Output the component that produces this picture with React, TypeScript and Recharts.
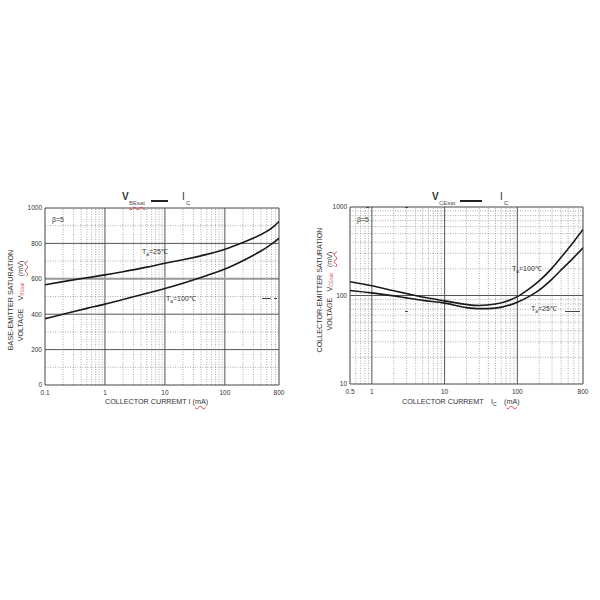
import React from 'react';
import { LineChart, Line, XAxis, YAxis, ReferenceLine } from 'recharts';

// ---- Left chart: VBEsat vs IC ----
const beCurrents = [0.1, 0.2, 0.5, 1, 2, 5, 10, 20, 50, 100, 200, 300, 400, 500, 650, 800];
const vbeT25 = [566, 584, 606, 622, 640, 666, 688, 708, 738, 767, 805, 830, 850, 868, 895, 924];
const vbeT100 = [375, 400, 433, 457, 483, 518, 545, 575, 619, 655, 702, 733, 757, 778, 804, 830];
const beXTicks = [0.1, 1, 10, 100, 800];
const beYTicks = [0, 200, 400, 600, 800, 1000];
const beXMajor = [1, 10, 100];
const beXMinor = [0.2, 0.3, 0.4, 0.5, 0.6, 0.7, 0.8, 0.9, 2, 3, 4, 5, 6, 7, 8, 9, 20, 30, 40, 50, 60, 70, 80, 90, 200, 300, 400, 500, 600, 700];
const beYMajor = [200, 400, 800];
const beYMinor = [100, 300, 500, 700, 900];

// ---- Right chart: VCEsat vs IC ----
const ceCurrents = [0.5, 1, 2, 3, 5, 10, 20, 30, 50, 100, 150, 200, 300, 400, 500, 600, 800];
const vceT100 = [143, 129, 113, 105, 96, 87, 79, 77, 80, 97, 121, 146, 204, 270, 338, 408, 557];
const vceT25 = [114, 107, 99, 94, 88, 82, 73, 71, 72, 84, 99, 115, 153, 194, 232, 270, 346];
const ceXTicks = [0.5, 1, 10, 100, 800];
const ceYTicks = [10, 100, 1000];
const ceXMajor = [1, 10, 100];
const ceXMinor = [0.6, 0.7, 0.8, 0.9, 2, 3, 4, 5, 6, 7, 8, 9, 20, 30, 40, 50, 60, 70, 80, 90, 200, 300, 400, 500, 600, 700];
const ceYMajor = [100];
const ceYMinor = [20, 30, 40, 50, 60, 70, 80, 90, 200, 300, 400, 500, 600, 700, 800, 900];

const beData = beCurrents.map((ic, i) => ({ ic, t25: vbeT25[i], t100: vbeT100[i] }));
const ceData = ceCurrents.map((ic, i) => ({ ic, t25: vceT25[i], t100: vceT100[i] }));

const FONT = '"Liberation Sans", Arial, sans-serif';
const TXT = '#333';
const tickStyle = { fontSize: 6.5, fill: '#333', fontFamily: FONT };
const wavy: React.CSSProperties = { textDecoration: 'underline wavy #d44', textDecorationThickness: '0.5px', textUnderlineOffset: '1px' };

function T({ x, y, size = 7, children, style }: { x: number; y: number; size?: number; children: React.ReactNode; style?: React.CSSProperties }) {
  return (
    <div style={{ position: 'absolute', left: x, top: y - size / 2, fontSize: size, lineHeight: 1, whiteSpace: 'nowrap', color: TXT, fontFamily: FONT, ...style }}>
      {children}
    </div>
  );
}

function R({ cx, cy, size = 7, children }: { cx: number; cy: number; size?: number; children: React.ReactNode }) {
  return (
    <div style={{ position: 'absolute', left: cx, top: cy, transform: 'translate(-50%,-50%) rotate(-90deg)', fontSize: size, lineHeight: 1, whiteSpace: 'nowrap', color: TXT, fontFamily: FONT }}>
      {children}
    </div>
  );
}

function Seg({ x, y, w, h = 1, c = '#222' }: { x: number; y: number; w: number; h?: number; c?: string }) {
  return <div style={{ position: 'absolute', left: x, top: y, width: w, height: h, background: c }} />;
}

const Sub = ({ children, style }: { children: React.ReactNode; style?: React.CSSProperties }) => (
  <span style={{ fontSize: '0.7em', verticalAlign: '-0.35em', ...style }}>{children}</span>
);

function gridLines(xMajor: number[], xMinor: number[], yMajor: number[], yMinor: number[]) {
  const out: React.ReactNode[] = [];
  xMinor.forEach((v) => out.push(<ReferenceLine key={'xm' + v} x={v} stroke="#888" strokeWidth={0.7} strokeDasharray="1 1.5" ifOverflow="visible" />));
  yMinor.forEach((v) => out.push(<ReferenceLine key={'ym' + v} y={v} stroke="#888" strokeWidth={0.7} strokeDasharray="1 1.5" ifOverflow="visible" />));
  xMajor.forEach((v) => out.push(<ReferenceLine key={'xM' + v} x={v} stroke="#555" strokeWidth={1} ifOverflow="visible" />));
  yMajor.forEach((v) => out.push(<ReferenceLine key={'yM' + v} y={v} stroke="#555" strokeWidth={1} ifOverflow="visible" />));
  return out;
}

export default function App() {
  return (
    <div style={{ position: 'absolute', left: 0, top: 0, width: 600, height: 600, background: '#fff', overflow: 'hidden' }}>
      {/* Left chart */}
      <div style={{ position: 'absolute', left: 0, top: 0 }}>
        <LineChart width={300} height={600} data={beData} margin={{ top: 208, right: 21, bottom: 195, left: 25 }}>
          <XAxis dataKey="ic" type="number" scale="log" domain={[0.1, 800]} ticks={beXTicks} allowDataOverflow
            height={20} tickLine={false} axisLine={false} tickSize={0} tickMargin={5} tick={tickStyle} interval={0} />
          <YAxis type="number" domain={[0, 1000]} ticks={beYTicks} width={20} tickLine={false} axisLine={false}
            tickSize={0} tickMargin={3} tick={tickStyle} interval={0} />
          {gridLines(beXMajor, beXMinor, beYMajor, beYMinor)}
          <ReferenceLine y={600} stroke="#999" strokeWidth={2} ifOverflow="visible" />
          <ReferenceLine x={0.1} stroke="#444" strokeWidth={1} ifOverflow="visible" />
          <ReferenceLine x={800} stroke="#444" strokeWidth={1} ifOverflow="visible" />
          <ReferenceLine y={0} stroke="#444" strokeWidth={1} ifOverflow="visible" />
          <ReferenceLine y={1000} stroke="#444" strokeWidth={1} ifOverflow="visible" />
          <Line dataKey="t25" type="monotone" stroke="#1a1a1a" strokeWidth={1.6} dot={false} isAnimationActive={false} />
          <Line dataKey="t100" type="monotone" stroke="#1a1a1a" strokeWidth={1.6} dot={false} isAnimationActive={false} />
        </LineChart>
      </div>

      {/* Right chart */}
      <div style={{ position: 'absolute', left: 300, top: 0 }}>
        <LineChart width={300} height={600} data={ceData} margin={{ top: 207, right: 17, bottom: 196, left: 28 }}>
          <XAxis dataKey="ic" type="number" scale="log" domain={[0.5, 800]} ticks={ceXTicks} allowDataOverflow
            height={20} tickLine={false} axisLine={false} tickSize={0} tickMargin={5} tick={tickStyle} interval={0} />
          <YAxis type="number" scale="log" domain={[10, 1000]} ticks={ceYTicks} width={22} tickLine={false} axisLine={false}
            tickSize={0} tickMargin={3} tick={tickStyle} interval={0} allowDataOverflow />
          {gridLines(ceXMajor, ceXMinor, ceYMajor, ceYMinor)}
          <ReferenceLine x={0.5} stroke="#444" strokeWidth={1} ifOverflow="visible" />
          <ReferenceLine x={800} stroke="#444" strokeWidth={1} ifOverflow="visible" />
          <ReferenceLine y={10} stroke="#444" strokeWidth={1} ifOverflow="visible" />
          <ReferenceLine y={1000} stroke="#444" strokeWidth={1} ifOverflow="visible" />
          <Line dataKey="t100" type="monotone" stroke="#1a1a1a" strokeWidth={1.6} dot={false} isAnimationActive={false} />
          <Line dataKey="t25" type="monotone" stroke="#1a1a1a" strokeWidth={1.6} dot={false} isAnimationActive={false} />
        </LineChart>
      </div>

      {/* Left chart texts */}
      <T x={122} y={197} size={10} style={{ fontWeight: 'bold' }}>V</T>
      <T x={129} y={203} size={6} style={{ color: '#555', ...wavy }}>BEsat</T>
      <Seg x={151} y={200} w={17} h={1.5} />
      <T x={182} y={197} size={10}>I</T>
      <T x={186} y={203} size={6}>C</T>
      <T x={52} y={219} size={7}>β=5</T>
      <T x={142} y={251} size={7}>T<Sub>a</Sub>=25℃</T>
      <T x={166} y={298} size={7}>T<Sub>a</Sub>=100℃</T>
      <Seg x={262} y={298} w={9} h={1} c="#444" />
      <Seg x={274} y={298} w={3} h={1} c="#444" />
      <R cx={11} cy={300} size={7.2}>BASE-EMITTER SATURATION</R>
      <R cx={21} cy={301} size={7.2}>
        VOLTAGE&nbsp;&nbsp;&nbsp;&nbsp;V<Sub style={{ color: '#c55' }}>BEsat</Sub>&nbsp;&nbsp;&nbsp;<span style={wavy}>(mV)</span>
      </R>
      <T x={105} y={402} size={7.2}>COLLECTOR CURREMT I (<span style={wavy}>mA</span>)</T>

      {/* Right chart texts */}
      <T x={432} y={197} size={10} style={{ fontWeight: 'bold' }}>V</T>
      <T x={439} y={203} size={6} style={{ color: '#555' }}>CEsat</T>
      <Seg x={460} y={200} w={22} h={1.5} />
      <T x={500} y={197} size={10}>I</T>
      <T x={504} y={203} size={6}>C</T>
      <T x={357} y={219} size={7}>β=5</T>
      <T x={512} y={268} size={7}>T<Sub>a</Sub>=100℃</T>
      <T x={531} y={308} size={7}>T<Sub>a</Sub>=25℃</T>
      <Seg x={565} y={311} w={15} h={1} c="#444" />
      <Seg x={366} y={207} w={3} h={1} c="#444" />
      <Seg x={405} y={207} w={3} h={1} c="#444" />
      <Seg x={405} y={311} w={3} h={1} c="#444" />
      <R cx={320} cy={290} size={7.2}>COLLECTOR-EMITTER SATURATION</R>
      <R cx={330} cy={291} size={7.2}>
        VOLTAGE&nbsp;&nbsp;&nbsp;V<Sub style={{ color: '#c55' }}>CEsat</Sub>&nbsp;&nbsp;&nbsp;<span style={wavy}>(mV)</span>
      </R>
      <T x={402} y={402} size={7.2}>COLLECTOR CURREMT</T>
      <T x={491} y={402} size={7.2}>I<Sub>C</Sub></T>
      <T x={504} y={402} size={7.2}>(<span style={wavy}>mA</span>)</T>
    </div>
  );
}
